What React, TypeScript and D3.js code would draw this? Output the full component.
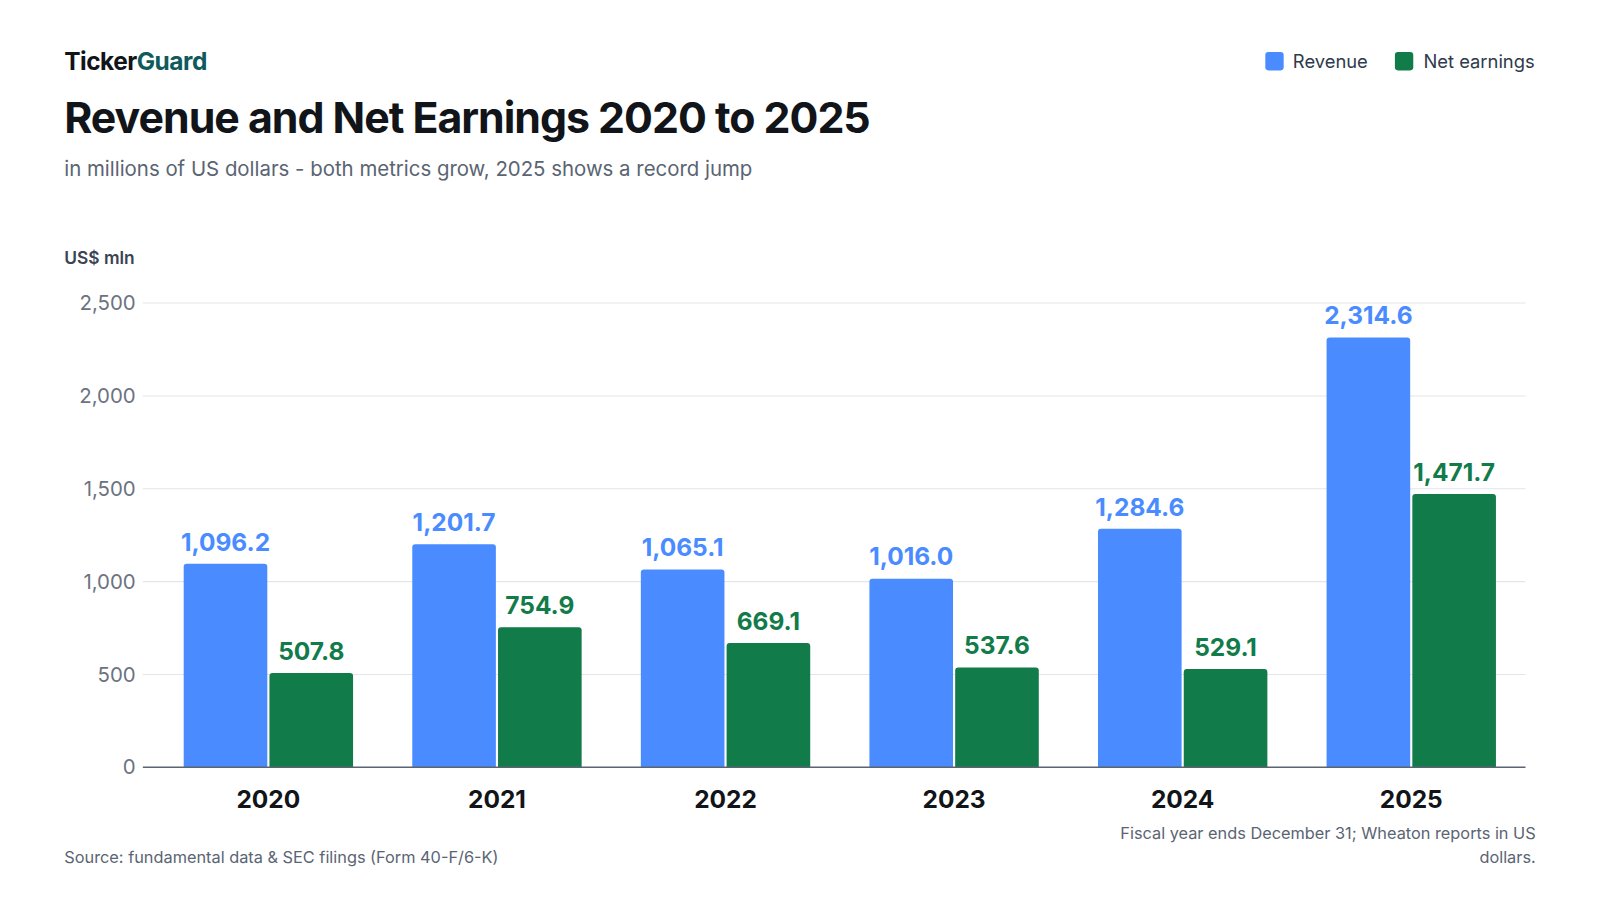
import React from 'react';
import * as d3 from 'd3';

const years = ['2020', '2021', '2022', '2023', '2024', '2025'];
const revenue = [1096.2, 1201.7, 1065.1, 1016.0, 1284.6, 2314.6];
const earnings = [507.8, 754.9, 669.1, 537.6, 529.1, 1471.7];
const yTicks = [0, 500, 1000, 1500, 2000, 2500];

const BLUE = '#4a8cff';
const GREEN = '#127b4a';
const FONT = 'Inter, "Noto Sans", sans-serif';

const App = () => {
  // layout in a 1568x882 design space, scaled to the 1600x900 page
  const W = 1568, H = 882;
  const left = 140, right = 1495, top = 297, bottom = 752;

  const y = d3.scaleLinear().domain([0, 2500]).range([bottom, top]);
  const x0 = d3.scaleBand().domain(years).range([left, right]).paddingInner(0.259).paddingOuter(0.154).align(0.58);
  const x1 = d3.scaleBand().domain(['rev', 'net']).range([0, x0.bandwidth()]).paddingInner(0.025);
  const fmt = d3.format(',.1f');

  const series = [
    { key: 'rev', values: revenue, color: BLUE },
    { key: 'net', values: earnings, color: GREEN },
  ];

  return (
    <svg width={1600} height={900} viewBox={`0 0 ${W} ${H}`} style={{ position: 'absolute', left: 0, top: 0, background: '#fff' }} fontFamily={FONT}>
      <text x={63} y={69} fontSize={24} fontWeight={700} fill="#111418" letterSpacing={-0.5}>
        Ticker<tspan fill="#0f5a5c">Guard</tspan>
      </text>
      <text x={63} y={130} fontSize={42} fontWeight={700} fill="#111418" letterSpacing={-1}>
        Revenue and Net Earnings 2020 to 2025
      </text>
      <text x={63} y={172} fontSize={20} fill="#5a6472">
        in millions of US dollars - both metrics grow, 2025 shows a record jump
      </text>

      {/* legend */}
      <rect x={1240} y={51} width={18} height={18} rx={3} fill={BLUE} />
      <text x={1267} y={67} fontSize={18} fill="#2f3a4c">Revenue</text>
      <rect x={1367} y={51} width={18} height={18} rx={3} fill={GREEN} />
      <text x={1395} y={67} fontSize={18} fill="#2f3a4c">Net earnings</text>

      <text x={63} y={259} fontSize={17} fontWeight={600} fill="#3a4454">US$ mln</text>

      {yTicks.map(t => (
        <g key={t}>
          {t > 0 && <line x1={left} x2={right} y1={y(t)} y2={y(t)} stroke="#e3e5e8" />}
          <text x={133} y={y(t)} dy="0.35em" textAnchor="end" fontSize={20} fill="#6b7380">{d3.format(',')(t)}</text>
        </g>
      ))}

      {years.map((yr, i) => (
        <g key={yr} transform={`translate(${x0(yr)},0)`}>
          {series.map(s => {
            const v = s.values[i];
            const bx = x1(s.key)!;
            const bw = x1.bandwidth();
            return (
              <g key={s.key}>
                <path
                  d={`M${bx},${bottom} V${y(v) + 3} Q${bx},${y(v)} ${bx + 3},${y(v)} H${bx + bw - 3} Q${bx + bw},${y(v)} ${bx + bw},${y(v) + 3} V${bottom} Z`}
                  fill={s.color}
                />
                <text x={bx + bw / 2} y={y(v) - 13} textAnchor="middle" fontSize={24} fontWeight={700} fill={s.color}>
                  {fmt(v)}
                </text>
              </g>
            );
          })}
          <text x={x0.bandwidth() / 2} y={792} textAnchor="middle" fontSize={24} fontWeight={700} fill="#111418">{yr}</text>
        </g>
      ))}
      <line x1={left} x2={right} y1={bottom} y2={bottom} stroke="#5a6472" strokeWidth={1.5} />

      <text x={63} y={846} fontSize={16} fill="#5a6472">Source: fundamental data &amp; SEC filings (Form 40-F/6-K)</text>
      <text x={1505} y={822} textAnchor="end" fontSize={16} fill="#5a6472">Fiscal year ends December 31; Wheaton reports in US</text>
      <text x={1505} y={846} textAnchor="end" fontSize={16} fill="#5a6472">dollars.</text>
    </svg>
  );
};

export default App;
